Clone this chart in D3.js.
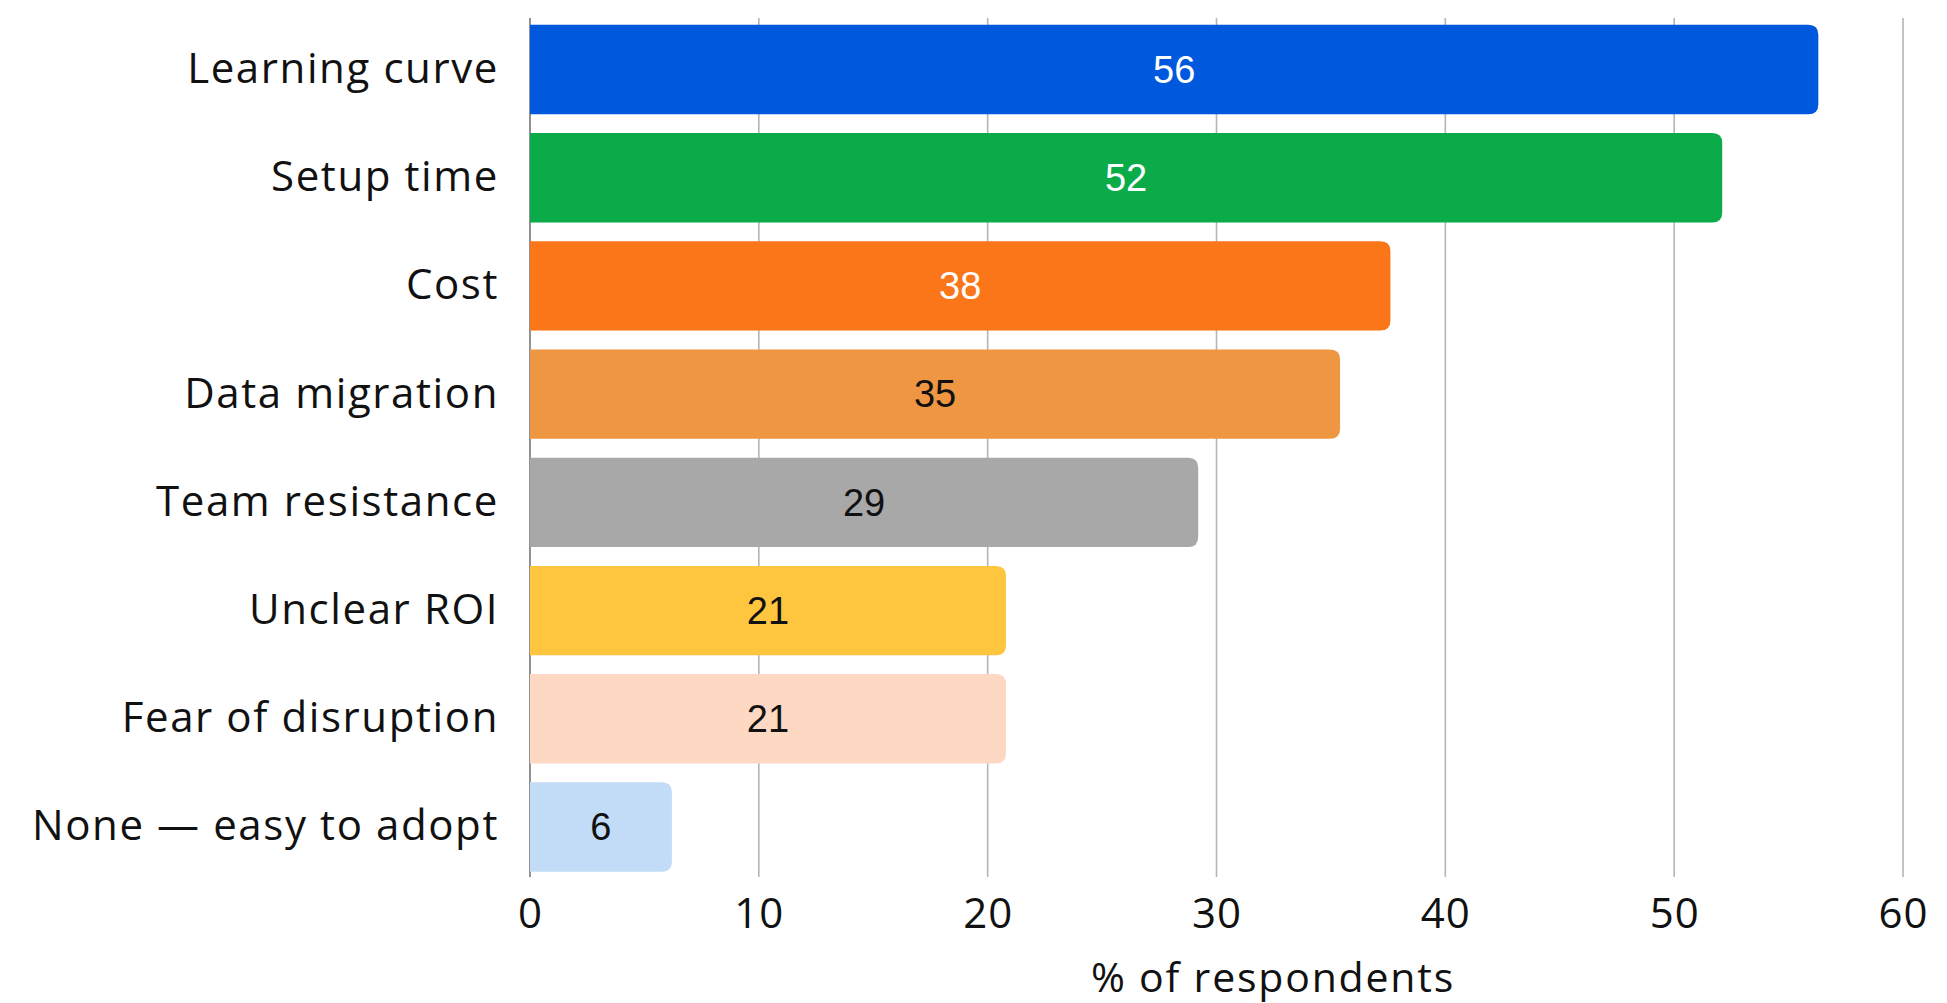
<!DOCTYPE html>
<html>
<head>
<meta charset="utf-8">
<script src="https://cdn.jsdelivr.net/npm/d3@7/dist/d3.min.js"></script>
<style>
  html, body { margin: 0; padding: 0; background: #ffffff; }
  svg { display: block; }
</style>
</head>
<body>
<svg id="chart" width="1947" height="1003"></svg>
<script>
const categories = ["Learning curve", "Setup time", "Cost", "Data migration", "Team resistance", "Unclear ROI", "Fear of disruption", "None \u2014 easy to adopt"];
const values = [56.3, 52.1, 37.6, 35.4, 29.2, 20.8, 20.8, 6.2];
const barColors = ["#0058dc", "#0bab49", "#fb7519", "#ef9643", "#a8a8a8", "#fdc63e", "#fdd8c2", "#c2dbf6"];
const labelColors = ["#ffffff", "#ffffff", "#ffffff", "#111111", "#111111", "#111111", "#111111", "#111111"];
const xTicks = [0, 10, 20, 30, 40, 50, 60];
const xTitle = "% of respondents";

const svg = d3.select("#chart");
const x = d3.scaleLinear().domain([0, 60]).range([530, 1903]);
const y = d3.scaleBand().domain(categories).range([15.4, 881.1]).paddingInner(0.174).paddingOuter(0.087);

// gridlines
svg.append("g").selectAll("line").data(xTicks).join("line")
  .attr("x1", d => x(d)).attr("x2", d => x(d))
  .attr("y1", 18).attr("y2", 877)
  .attr("stroke", d => d === 0 ? "#777" : "#b5b5b5")
  .attr("stroke-width", 1.6);

// bars with rounded right corners
const r = 10;
function barPath(x0, x1, y0, h) {
  const rr = Math.min(r, (x1 - x0) / 2, h / 2);
  return `M${x0},${y0}H${x1 - rr}Q${x1},${y0} ${x1},${y0 + rr}V${y0 + h - rr}Q${x1},${y0 + h} ${x1 - rr},${y0 + h}H${x0}Z`;
}
const data = categories.map((c, i) => ({ c, v: values[i], fill: barColors[i], lc: labelColors[i] }));
svg.append("g").selectAll("path").data(data).join("path")
  .attr("d", d => barPath(x(0), x(d.v), y(d.c), y.bandwidth()))
  .attr("fill", d => d.fill);

// value labels
svg.append("g").selectAll("text").data(data).join("text")
  .attr("x", d => x(d.v / 2))
  .attr("y", d => y(d.c) + y.bandwidth() / 2)
  .attr("dy", "0.35em")
  .attr("text-anchor", "middle")
  .attr("font-family", "'Liberation Sans', Arial, sans-serif")
  .attr("font-size", 38)
  .attr("fill", d => d.lc)
  .text(d => d3.format(".0f")(d.v));

// category labels
const yAxis = d3.axisLeft(y).tickSize(0).tickPadding(31);
const gy = svg.append("g").attr("transform", `translate(${x(0)},0)`).call(yAxis);
gy.select(".domain").remove();
gy.selectAll("text")
  .attr("font-family", "'Open Sans', sans-serif")
  .attr("font-size", 42)
  .attr("letter-spacing", 1.6)
  .attr("fill", "#111");

// x tick labels
const xAxis = d3.axisBottom(x).tickValues(xTicks).tickSize(0).tickPadding(0).tickFormat(d3.format("d"));
const gx = svg.append("g").attr("transform", `translate(0,913)`).call(xAxis);
gx.select(".domain").remove();
gx.selectAll("text")
  .attr("dy", "0.35em")
  .attr("y", 0)
  .attr("font-family", "'Open Sans', sans-serif")
  .attr("font-size", 42)
  .attr("letter-spacing", 1)
  .attr("fill", "#111");

// x title
svg.append("text")
  .attr("x", 1273).attr("y", 978).attr("dy", "0.35em")
  .attr("text-anchor", "middle")
  .attr("font-family", "'Open Sans', sans-serif")
  .attr("font-size", 41)
  .attr("letter-spacing", 1.8)
  .attr("fill", "#111")
  .text(xTitle);
</script>
</body>
</html>
